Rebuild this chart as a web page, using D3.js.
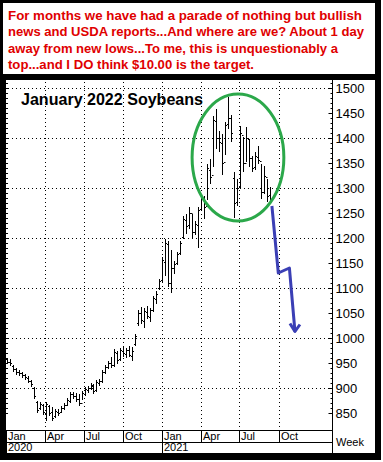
<!DOCTYPE html>
<html>
<head>
<meta charset="utf-8">
<script src="https://cdn.jsdelivr.net/npm/d3@7"></script>
<style>
  body { margin: 0; background: #fff; }
  svg { display: block; font-family: "Liberation Sans", Arial, sans-serif; }
</style>
</head>
<body>
<div id="chart"></div>
<script>
const noteLines = [
    "For months we have had a parade of nothing but bullish",
    "news and USDA reports...And where are we? About 1 day",
    "away from new lows...To me, this is unquestionably a",
    "top...and I DO think $10.00 is the target."
];
const noteWidths = [354, 356, 330, 246];
const title = "January 2022 Soybeans";

// weekly bars from the first week of 2020: [high, low, open, close]
const firstWeek = new Date(2020, 0, 3);
const weeks = [
    [960, 950, 958, 952], [958, 946, 952, 950], [946, 934, 944, 938], [940, 928, 938, 932],
    [936, 926, 932, 930], [932, 922, 930, 926], [928, 918, 926, 922], [924, 912, 920, 914],
    [916, 904, 914, 908], [902, 880, 900, 884], [874, 852, 872, 856], [872, 858, 860, 868],
    [868, 848, 866, 852], [872, 836, 850, 868], [866, 846, 864, 850], [862, 836, 852, 840],
    [858, 842, 844, 854], [858, 846, 852, 850], [864, 852, 852, 860], [870, 858, 860, 866],
    [880, 866, 866, 876], [892, 872, 874, 888], [892, 880, 888, 884], [890, 874, 884, 878],
    [888, 866, 878, 870], [894, 878, 870, 890], [902, 886, 888, 898], [904, 892, 896, 900],
    [910, 898, 900, 906], [908, 890, 904, 894], [916, 894, 896, 912], [918, 906, 910, 914],
    [936, 912, 914, 932], [946, 930, 932, 942], [954, 940, 942, 950], [962, 942, 950, 946],
    [978, 944, 946, 972], [974, 950, 970, 956], [980, 956, 958, 976], [984, 964, 974, 970],
    [980, 962, 968, 976], [984, 964, 976, 966], [982, 956, 964, 974], [1008, 986, 988, 1004],
    [1056, 1026, 1030, 1050], [1062, 1030, 1050, 1036], [1060, 1022, 1034, 1054], [1064, 1040, 1052, 1044],
    [1060, 1034, 1042, 1056], [1084, 1054, 1056, 1080], [1094, 1070, 1078, 1088], [1118, 1098, 1100, 1114],
    [1162, 1114, 1116, 1156], [1198, 1126, 1152, 1190], [1194, 1104, 1188, 1110], [1176, 1092, 1110, 1140],
    [1154, 1130, 1140, 1148], [1172, 1148, 1150, 1168], [1194, 1168, 1170, 1190], [1244, 1200, 1202, 1238],
    [1248, 1210, 1236, 1224], [1262, 1220, 1226, 1250], [1248, 1200, 1250, 1212], [1234, 1208, 1212, 1228],
    [1262, 1182, 1226, 1256], [1288, 1258, 1258, 1280], [1284, 1240, 1280, 1262], [1348, 1278, 1264, 1340],
    [1358, 1310, 1336, 1322], [1444, 1344, 1326, 1436], [1458, 1380, 1434, 1400], [1414, 1374, 1400, 1392],
    [1408, 1328, 1390, 1350], [1432, 1368, 1352, 1426], [1482, 1420, 1428, 1440], [1446, 1394, 1440, 1410],
    [1332, 1242, 1320, 1270], [1318, 1266, 1272, 1300], [1424, 1300, 1302, 1410], [1402, 1334, 1406, 1350],
    [1422, 1354, 1350, 1400], [1398, 1344, 1398, 1360], [1364, 1334, 1360, 1340], [1372, 1338, 1342, 1364],
    [1384, 1350, 1362, 1356], [1348, 1280, 1354, 1292], [1344, 1290, 1292, 1324], [1318, 1274, 1322, 1284],
    [1302, 1270, 1286, 1276]
];

const priceTicks = d3.range(850, 1501, 50);
const gridPrices = d3.range(900, 1501, 100);
const monthTicks = [
    new Date(2020, 0, 1), new Date(2020, 3, 1), new Date(2020, 6, 1), new Date(2020, 9, 1),
    new Date(2021, 0, 1), new Date(2021, 3, 1), new Date(2021, 6, 1), new Date(2021, 9, 1)
];
const yearTicks = [new Date(2020, 0, 1), new Date(2021, 0, 1)];

// annotations: ellipse around the top, projected path down to $10
const topCircle = { from: new Date(2021, 2, 12), to: new Date(2021, 9, 13), high: 1488, low: 1234 };
const forecast = [
    [new Date(2021, 8, 15), 1264],
    [new Date(2021, 8, 30), 1130],
    [new Date(2021, 9, 26), 1140],
    [new Date(2021, 10, 8), 1013]
];

const W = 383, H = 462;
const plotLeft = 6, axisX = 332, plotTop = 80, dateTop = 430, dateMid = 442, dateBottom = 453;

const svg = d3.select("#chart").append("svg")
    .attr("width", W)
    .attr("height", H);

const x = d3.scaleTime()
    .domain([new Date(2020, 0, 1), new Date(2022, 0, 1)])
    .range([plotLeft, 318]);

const y = d3.scaleLinear()
    .domain([850, 1500])
    .range([413, 88]);

// frame
svg.append("rect").attr("x", 0).attr("y", 0).attr("width", 381).attr("height", 460).attr("fill", "#000");
svg.append("rect").attr("x", 3).attr("y", 3).attr("width", 372).attr("height", 71).attr("fill", "#fff");
svg.append("rect").attr("x", plotLeft).attr("y", plotTop).attr("width", 375 - plotLeft).attr("height", dateBottom - plotTop).attr("fill", "#fff");

// note text
svg.append("g").selectAll("text")
    .data(noteLines)
    .enter().append("text")
    .attr("x", 8)
    .attr("y", (d, i) => 20 + i * 16.3)
    .attr("textLength", (d, i) => noteWidths[i])
    .attr("lengthAdjust", "spacingAndGlyphs")
    .attr("font-size", "13px")
    .attr("font-weight", "bold")
    .attr("fill", "#e00000")
    .text(d => d);

// grid
const grid = svg.append("g")
    .attr("stroke", "#000")
    .attr("stroke-width", 1)
    .attr("stroke-dasharray", "1,3");

grid.selectAll(".hgrid")
    .data(gridPrices)
    .enter().append("line")
    .attr("x1", plotLeft + 2).attr("x2", axisX)
    .attr("y1", d => Math.round(y(d)) + 0.5)
    .attr("y2", d => Math.round(y(d)) + 0.5);

grid.selectAll(".vgrid")
    .data(monthTicks.slice(1))
    .enter().append("line")
    .attr("x1", d => Math.round(x(d)) + 0.5)
    .attr("x2", d => Math.round(x(d)) + 0.5)
    .attr("y1", plotTop + 2).attr("y2", dateTop);

// left edge minor ticks
svg.append("g").selectAll("line")
    .data(d3.range(850, 1511, 10))
    .enter().append("line")
    .attr("x1", plotLeft).attr("x2", plotLeft + 2)
    .attr("y1", d => Math.round(y(d)) + 0.5)
    .attr("y2", d => Math.round(y(d)) + 0.5)
    .attr("stroke", "#000");

// price axis on the right
const yAxis = d3.axisRight(y)
    .tickValues(priceTicks)
    .tickSizeInner(-4)
    .tickSizeOuter(0)
    .tickPadding(3)
    .tickFormat(d3.format("d"));

svg.append("g")
    .attr("transform", `translate(${axisX + 0.5},0)`)
    .call(yAxis)
    .call(g => g.select(".domain").remove())
    .call(g => g.selectAll("text").attr("font-size", "13px").attr("font-family", "Liberation Sans, Arial"));

svg.append("g")
    .attr("transform", `translate(${axisX + 0.5},0)`)
    .call(d3.axisRight(y).tickValues(d3.range(850, 1511, 10)).tickSize(-2).tickFormat(""))
    .call(g => g.select(".domain").remove());

svg.append("line")
    .attr("x1", axisX + 0.5).attr("x2", axisX + 0.5)
    .attr("y1", plotTop).attr("y2", dateBottom)
    .attr("stroke", "#000");

// date area
const dates = svg.append("g").attr("stroke", "#000");
[dateTop, dateMid].forEach(v => {
    dates.append("line")
        .attr("x1", plotLeft).attr("x2", axisX)
        .attr("y1", v + 0.5).attr("y2", v + 0.5);
});
dates.selectAll(".msep")
    .data(monthTicks)
    .enter().append("line")
    .attr("x1", d => Math.round(x(d)) + 0.5)
    .attr("x2", d => Math.round(x(d)) + 0.5)
    .attr("y1", dateTop)
    .attr("y2", d => d.getMonth() === 0 ? dateBottom : dateMid);

svg.append("g").selectAll("text")
    .data(monthTicks)
    .enter().append("text")
    .attr("x", d => Math.round(x(d)) + 2)
    .attr("y", dateMid - 2)
    .attr("font-size", "11px")
    .text(d3.timeFormat("%b"));

svg.append("g").selectAll("text")
    .data(yearTicks)
    .enter().append("text")
    .attr("x", d => Math.round(x(d)) + 2)
    .attr("y", dateBottom - 2)
    .attr("font-size", "11px")
    .text(d3.timeFormat("%Y"));

svg.append("text")
    .attr("x", axisX + 4)
    .attr("y", 446)
    .attr("font-size", "11px")
    .text("Week");

// weekly OHLC bars
const weekDate = i => d3.timeDay.offset(firstWeek, 7 * i);
const bars = svg.append("g").attr("stroke", "#000").attr("stroke-width", 1);
const bar = bars.selectAll("g")
    .data(weeks)
    .enter().append("g")
    .attr("transform", (d, i) => `translate(${Math.round(x(weekDate(i))) + 0.5},0)`);

bar.append("line")
    .attr("y1", d => Math.round(y(d[0])))
    .attr("y2", d => Math.round(y(d[1])) + 1);
bar.append("line")
    .attr("x1", -1.5).attr("x2", 0)
    .attr("y1", d => Math.round(y(d[2])) + 0.5)
    .attr("y2", d => Math.round(y(d[2])) + 0.5);
bar.append("line")
    .attr("x1", 0).attr("x2", 1.5)
    .attr("y1", d => Math.round(y(d[3])) + 0.5)
    .attr("y2", d => Math.round(y(d[3])) + 0.5);

// title
svg.append("text")
    .attr("x", 21)
    .attr("y", 105)
    .attr("font-size", "16px")
    .attr("font-weight", "bold")
    .attr("textLength", 182)
    .attr("lengthAdjust", "spacingAndGlyphs")
    .text(title);

// ellipse around the top
svg.append("ellipse")
    .attr("cx", (x(topCircle.from) + x(topCircle.to)) / 2)
    .attr("cy", (y(topCircle.high) + y(topCircle.low)) / 2)
    .attr("rx", (x(topCircle.to) - x(topCircle.from)) / 2)
    .attr("ry", (y(topCircle.low) - y(topCircle.high)) / 2)
    .attr("fill", "none")
    .attr("stroke", "#2ba84a")
    .attr("stroke-width", 3);

// forecast arrow
const line = d3.line().x(d => x(d[0])).y(d => y(d[1]));
svg.append("path")
    .attr("d", line(forecast))
    .attr("fill", "none")
    .attr("stroke", "#3b3fb5")
    .attr("stroke-width", 3)
    .attr("stroke-linejoin", "round");

const tip = forecast[forecast.length - 1];
const tx = x(tip[0]), ty = y(tip[1]);
svg.append("path")
    .attr("d", `M${tx - 5},${ty - 8}L${tx},${ty}L${tx + 5},${ty - 7}`)
    .attr("fill", "none")
    .attr("stroke", "#3b3fb5")
    .attr("stroke-width", 3)
    .attr("stroke-linejoin", "round");
</script>
</body>
</html>
